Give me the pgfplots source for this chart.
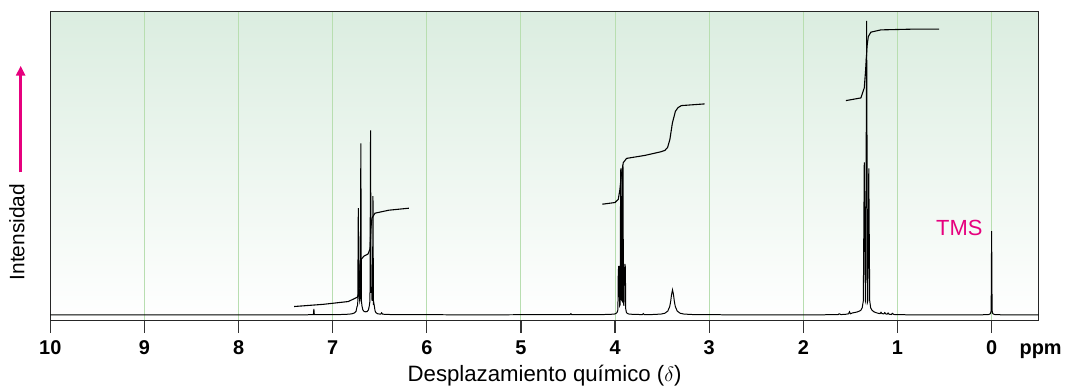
\documentclass[border=0pt]{standalone}
\usepackage{pgfplots}
\pgfplotsset{compat=1.18}
\usetikzlibrary{arrows.meta}
\usepackage{fontspec}
\setmainfont{Liberation Sans}
\definecolor{mag}{RGB}{230,0,126}
\definecolor{gridg}{RGB}{184,222,176}
\definecolor{bgtop}{RGB}{219,237,224}
\begin{document}
\begin{tikzpicture}
\begin{axis}[
 scale only axis, width=992.2pt, height=310.3pt,
 xmin=-0.5, xmax=10, ymin=-6, ymax=304.3, x dir=reverse,
 xtick={0,1,2,3,4,5,6,7,8,9,10}, ytick=\empty,
 xtick pos=bottom, xtick align=outside, major tick length=12pt,
 tick style={color=black!80, line width=1.2pt},
 xmajorgrids, major grid style={gridg, line width=1pt},
 axis line style={black!85, line width=1.2pt},
 axis background/.style={top color=bgtop, bottom color=white},
 xticklabel style={font=\fontsize{20}{24}\selectfont\bfseries, yshift=-4.5pt},
 /pgf/number format/assume math mode=true,
 clip=false,
]
% spectrum
\addplot[black, line width=1pt, mark=none] coordinates {
(-0.5,0) (-0.1,0) (-0.03,0.3) (-0.012,1.2) (-0.005,4) (0,84) (0.005,4) (0.012,1.2) (0.03,0.3) (0.1,0)
(0.9,0) (1.04,0.3) (1.055,1.5) (1.065,0.3) (1.09,0.6) (1.10,1.8) (1.11,0.6) (1.125,0.9) (1.135,2.2) (1.145,0.9)
(1.165,1.2) (1.175,2.5) (1.185,1.2) (1.21,1.6) (1.23,2.2) (1.25,3) (1.27,4.5) (1.285,7) (1.295,14)
(1.305,147) (1.315,14) (1.318,13) (1.328,295) (1.338,13) (1.341,14) (1.353,153) (1.363,14) (1.375,7)
(1.39,4.5) (1.41,3.5) (1.43,2.8) (1.46,2.2) (1.48,1.8) (1.50,1) (1.51,3) (1.52,1) (1.55,0.5) (1.6,0.2) (1.62,1) (1.63,0.2) (1.8,0)
(2.8,0) (3.09,0.15) (3.19,0.3) (3.27,0.75) (3.31,1.6) (3.34,3.75) (3.36,8.2) (3.37,13.1) (3.38,20.4) (3.39,25)
(3.40,20.4) (3.41,13.1) (3.42,8.2) (3.44,3.75) (3.47,1.6) (3.51,0.75) (3.59,0.3) (3.69,0.2) (3.70,1.2) (3.71,0.2) (3.75,0.3)
(3.80,0.4) (3.85,0.7) (3.87,1.3) (3.88,2.5) (3.887,6) (3.891,48) (3.896,51) (3.901,40) (3.906,9) (3.911,12) (3.916,148) (3.920,150) (3.926,14)
(3.932,15) (3.937,147) (3.941,145) (3.947,10) (3.952,9) (3.957,45) (3.961,49) (3.966,44) (3.970,5) (3.978,2.5) (3.99,1.3) (4.01,0.7) (4.06,0.4) (4.15,0.2)
(4.3,0.1) (4.46,0.1) (4.47,1) (4.48,0.1) (5.5,0)
(6.30,0.1) (6.40,0.3) (6.47,0.6) (6.48,2) (6.49,0.6) (6.52,1) (6.54,2) (6.55,4) (6.558,9) (6.563,12) (6.567,10)
(6.572,119) (6.577,18) (6.582,14) (6.587,28) (6.592,22) (6.598,185) (6.604,14) (6.611,9) (6.62,5) (6.635,3.2)
(6.65,3) (6.665,3.2) (6.68,5) (6.689,9) (6.695,14) (6.701,172) (6.707,18) (6.713,14) (6.72,20) (6.728,107)
(6.734,10) (6.742,8) (6.752,3.5) (6.77,1.8) (6.80,0.9) (6.86,0.4) (6.95,0.2) (7.10,0.1) (7.195,0.1) (7.2,6)
(7.205,0.1) (7.3,0) (10,0)
};
% integrals
\addplot[black, line width=1.1pt, mark=none] coordinates {
(7.409,8.3) (7.1,10.5) (6.834,13.3) (6.738,17.7) (6.72,22) (6.71,50) (6.694,56) (6.667,59) (6.625,61)
(6.604,66) (6.593,88) (6.583,97) (6.551,102) (6.403,105) (6.191,107)
};
\addplot[black, line width=1.1pt, mark=none] coordinates {
(4.136,111) (4.001,112.7) (3.966,116) (3.950,125) (3.934,140) (3.913,152.7) (3.878,157) (3.683,160)
(3.52,163.5) (3.471,165) (3.442,168) (3.418,176) (3.391,192.7) (3.359,204.3) (3.331,208) (3.296,210) (3.048,211.7)
};
\addplot[black, line width=1.1pt, mark=none] coordinates {
(1.548,215) (1.389,217.7) (1.353,227.7) (1.339,245) (1.323,270) (1.310,279.3) (1.283,283.7) (1.177,286)
(0.859,286.7) (0.558,286.7)
};
\node[font=\fontsize{20}{24}\selectfont\bfseries, anchor=base west] at (axis cs:-0.26,-40) {ppm};
\node[font=\fontsize{22.3}{26}\selectfont, anchor=base] at (axis cs:4.749,-67.3) {Desplazamiento químico ($\delta$)};
\node[font=\fontsize{21}{25}\selectfont, rotate=90] at (axis cs:10.355,83) {Intensidad};
\draw[mag, line width=3pt, -{Triangle[width=9pt,length=10pt]}] (axis cs:10.315,143) -- (axis cs:10.315,250);
\node[mag, font=\fontsize{22}{26}\selectfont] at (axis cs:0.343,87.6) {TMS};
\end{axis}
\path (current axis.south west) ++(-50.5pt,-64pt) rectangle ++(1065pt,386pt);
\end{tikzpicture}
\end{document}
